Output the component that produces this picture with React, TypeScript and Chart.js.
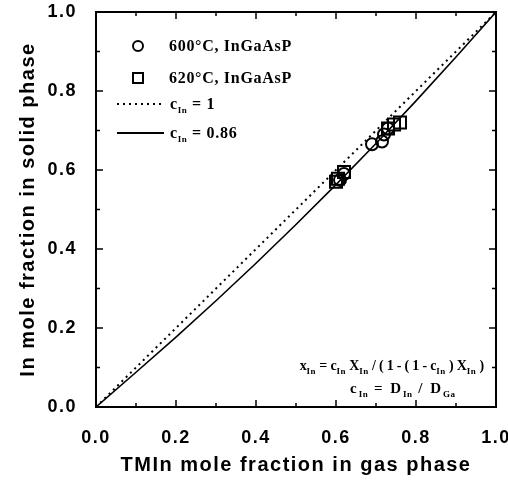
import React, { useEffect, useRef } from "react";
import { Chart, registerables } from "chart.js";

Chart.register(...registerables);

// ---- data ----
const tickValues = [0, 0.2, 0.4, 0.6, 0.8, 1.0];

const circle600X = [0.61, 0.62, 0.69, 0.715, 0.72, 0.73];
const circle600Y = [0.575, 0.59, 0.665, 0.672, 0.69, 0.705];

const square620X = [0.6, 0.605, 0.62, 0.73, 0.745, 0.76];
const square620Y = [0.57, 0.578, 0.595, 0.705, 0.715, 0.72];

// c_In = 1 (dotted)
const idealX = [0, 1];
const idealY = [0, 1];

// c_In = 0.86 (solid)
const fitX = [0, 0.1, 0.2, 0.3, 0.4, 0.5, 0.6, 0.7, 0.8, 0.9, 1.0];
const fitY = [0, 0.088, 0.177, 0.269, 0.364, 0.462, 0.563, 0.667, 0.775, 0.886, 1.0];

const toPts = (xs: number[], ys: number[]) => xs.map((x, i) => ({ x, y: ys[i] }));

const frameTicks = {
  id: "frameTicks",
  afterDatasetsDraw(chart: any) {
    const { ctx, chartArea, scales } = chart;
    const { left, right, top, bottom } = chartArea;
    const xs = scales.x;
    const ys = scales.y;
    ctx.save();
    ctx.strokeStyle = "#000";
    ctx.lineWidth = 2;
    ctx.strokeRect(left, top, right - left, bottom - top);
    ctx.lineWidth = 1.5;
    for (let i = 1; i < 10; i++) {
      const v = i / 10;
      const len = i % 2 === 0 ? 7 : 4;
      const px = xs.getPixelForValue(v);
      const py = ys.getPixelForValue(v);
      ctx.beginPath();
      ctx.moveTo(px, bottom);
      ctx.lineTo(px, bottom - len);
      ctx.moveTo(px, top);
      ctx.lineTo(px, top + len);
      ctx.moveTo(left, py);
      ctx.lineTo(left + len, py);
      ctx.moveTo(right, py);
      ctx.lineTo(right - len, py);
      ctx.stroke();
    }
    ctx.restore();
  },
};

const spacing = {
  id: "spacing",
  beforeDraw(chart: any) {
    (chart.ctx as any).letterSpacing = "1.5px";
  },
  afterDraw(chart: any) {
    (chart.ctx as any).letterSpacing = "0px";
  },
};

const tickFont = { family: "'Liberation Sans', Arial, sans-serif", size: 18, weight: "bold" as const };
const titleFont = { family: "'Liberation Sans', Arial, sans-serif", size: 20, weight: "bold" as const };

const serif = "'Liberation Serif', 'Times New Roman', serif";
const subStyle: React.CSSProperties = {
  fontSize: "9px",
  position: "relative",
  top: "4px",
  verticalAlign: "baseline",
  letterSpacing: "0.5px",
};

function Sub({ t }: { t: string }) {
  return <span style={subStyle}>{t}</span>;
}

export default function App() {
  const ref = useRef<HTMLCanvasElement | null>(null);

  useEffect(() => {
    if (!ref.current) return;
    const chart = new Chart(ref.current, {
      type: "scatter",
      data: {
        datasets: [
          {
            label: "c_In = 1",
            data: toPts(idealX, idealY),
            showLine: true,
            borderColor: "#000",
            borderWidth: 2,
            borderDash: [2, 4],
            pointRadius: 0,
            fill: false,
          },
          {
            label: "c_In = 0.86",
            data: toPts(fitX, fitY),
            showLine: true,
            borderColor: "#000",
            borderWidth: 1.6,
            pointRadius: 0,
            fill: false,
          },
          {
            label: "600°C, InGaAsP",
            data: toPts(circle600X, circle600Y),
            pointStyle: "circle",
            pointRadius: 6,
            pointBorderWidth: 2,
            pointBorderColor: "#000",
            pointBackgroundColor: "rgba(0,0,0,0)",
            showLine: false,
          },
          {
            label: "620°C, InGaAsP",
            data: toPts(square620X, square620Y),
            pointStyle: "rect",
            pointRadius: 8.5,
            pointBorderWidth: 2,
            pointBorderColor: "#000",
            pointBackgroundColor: "rgba(0,0,0,0)",
            showLine: false,
          },
        ],
      },
      options: {
        responsive: false,
        animation: false,
        devicePixelRatio: 1,
        layout: { padding: { top: 12, right: 12, left: 0, bottom: 0 } },
        plugins: { legend: { display: false }, tooltip: { enabled: false } },
        scales: {
          x: {
            type: "linear",
            min: 0,
            max: 1,
            afterBuildTicks: (s: any) => {
              s.ticks = tickValues.map((v) => ({ value: v }));
            },
            afterFit: (s: any) => {
              s.height = 74;
              s.paddingLeft = 0;
              s.paddingRight = 0;
            },
            grid: { display: false, drawTicks: false },
            border: { display: false },
            ticks: {
              color: "#000",
              font: tickFont,
              padding: 20,
              maxRotation: 0,
              callback: (v: any) => Number(v).toFixed(1),
            },
            title: {
              display: true,
              text: "TMIn mole fraction in gas phase",
              color: "#000",
              font: titleFont,
              padding: { top: 0, bottom: 4 },
            },
          },
          y: {
            type: "linear",
            min: 0,
            max: 1,
            afterBuildTicks: (s: any) => {
              s.ticks = tickValues.map((v) => ({ value: v }));
            },
            afterFit: (s: any) => {
              s.width = 96;
              s.paddingTop = 0;
              s.paddingBottom = 0;
            },
            grid: { display: false, drawTicks: false },
            border: { display: false },
            ticks: {
              color: "#000",
              font: tickFont,
              padding: 19,
              callback: (v: any) => Number(v).toFixed(1),
            },
            title: {
              display: true,
              text: "In mole fraction in solid phase",
              color: "#000",
              font: titleFont,
              padding: { top: 16, bottom: 0 },
            },
          },
        },
      },
      plugins: [spacing, frameTicks],
    } as any);
    return () => chart.destroy();
  }, []);

  const legendText: React.CSSProperties = {
    position: "absolute",
    fontFamily: serif,
    fontWeight: "bold",
    fontSize: "16px",
    lineHeight: "16px",
    letterSpacing: "0.7px",
    whiteSpace: "nowrap",
    color: "#000",
  };
  const eqText: React.CSSProperties = {
    position: "absolute",
    fontFamily: serif,
    fontWeight: "bold",
    fontSize: "15px",
    lineHeight: "16px",
    whiteSpace: "nowrap",
    color: "#000",
  };

  return (
    <div style={{ position: "fixed", left: 0, top: 0, width: 508, height: 481, background: "#fff" }}>
      <canvas ref={ref} width={508} height={481} style={{ position: "absolute", left: 0, top: 0, width: 508, height: 481 }} />
      {/* legend symbols */}
      <div style={{ position: "absolute", left: 132, top: 40, width: 12, height: 12, border: "2px solid #000", borderRadius: "50%", boxSizing: "border-box" }} />
      <div style={{ position: "absolute", left: 132, top: 72, width: 12, height: 12, border: "2px solid #000", boxSizing: "border-box" }} />
      <div style={{ position: "absolute", left: 117, top: 103, width: 46, height: 2, backgroundImage: "repeating-linear-gradient(to right, #000 0px, #000 2px, transparent 2px, transparent 6px)" }} />
      <div style={{ position: "absolute", left: 117, top: 132, width: 47, height: 1.6, background: "#000" }} />
      {/* legend texts */}
      <div style={{ ...legendText, left: 169, top: 38 }}>600°C, InGaAsP</div>
      <div style={{ ...legendText, left: 169, top: 70 }}>620°C, InGaAsP</div>
      <div style={{ ...legendText, left: 170, top: 96 }}>c<Sub t="In" /> = 1</div>
      <div style={{ ...legendText, left: 170, top: 125 }}>c<Sub t="In" /> = 0.86</div>
      {/* equation */}
      <div style={{ ...eqText, right: 24, top: 358, fontSize: "14px", letterSpacing: "-0.2px" }}>
        x<Sub t="In" /> = c<Sub t="In" /> X<Sub t="In" /> / ( 1 - ( 1 - c<Sub t="In" /> ) X<Sub t="In" /> )
      </div>
      <div style={{ ...eqText, left: 350, top: 380, letterSpacing: "2px" }}>
        c<Sub t="In" /> = D<Sub t="In" /> / D<Sub t="Ga" />
      </div>
    </div>
  );
}
